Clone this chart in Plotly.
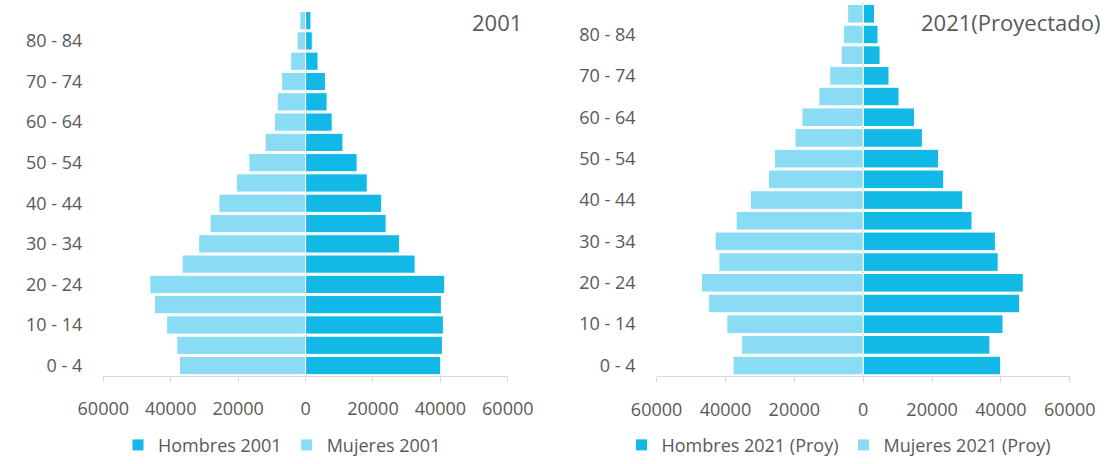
import plotly.graph_objects as go

age_groups = ["0 - 4", "5 - 9", "10 - 14", "15 - 19", "20 - 24", "25 - 29", "30 - 34",
              "35 - 39", "40 - 44", "45 - 49", "50 - 54", "55 - 59", "60 - 64",
              "65 - 69", "70 - 74", "75 - 79", "80 - 84", "85 y más"]

hombres_2001 = [40100, 40600, 40900, 40300, 41300, 32500, 27900, 23900, 22600,
                18300, 15300, 11100, 7900, 6400, 5900, 3700, 2000, 1600]
mujeres_2001 = [37400, 38200, 41200, 44800, 46200, 36600, 31700, 28300, 25700,
                20500, 16800, 12000, 9200, 8400, 7100, 4400, 2500, 1700]

hombres_2021 = [39900, 36800, 40600, 45400, 46500, 39200, 38400, 31600, 28900,
                23400, 21900, 17200, 14900, 10400, 7500, 4900, 4300, 3300]
mujeres_2021 = [37800, 35300, 39600, 44900, 47000, 41900, 43000, 36900, 32800,
                27500, 25800, 19800, 17800, 12900, 9700, 6400, 5700, 4500]

x_ticks = [-60000, -40000, -20000, 0, 20000, 40000, 60000]
x_tick_text = ["60000", "40000", "20000", "0", "20000", "40000", "60000"]
y_tick_labels = age_groups[::2][:9]

C_MEN = "#13B9E6"
C_WOMEN = "#89DCF3"
TXT = "#595959"
GRID = "#D9D9D9"
FONT = "Open Sans"

W, H = 1106, 464

fig = go.Figure()

def add_pair(men, women, name_m, name_w, xa, ya, leg):
    fig.add_trace(go.Bar(y=age_groups, x=men, orientation="h", name=name_m,
                         marker=dict(color=C_MEN, line=dict(color="white", width=1)),
                         xaxis=xa, yaxis=ya, legend=leg))
    fig.add_trace(go.Bar(y=age_groups, x=[-v for v in women], orientation="h", name=name_w,
                         marker=dict(color=C_WOMEN, line=dict(color="white", width=1)),
                         xaxis=xa, yaxis=ya, legend=leg))

add_pair(hombres_2001, mujeres_2001, "Hombres 2001", "Mujeres 2001", "x", "y", "legend")
add_pair(hombres_2021, mujeres_2021, "Hombres 2021 (Proy)", "Mujeres 2021 (Proy)", "x2", "y2", "legend2")

def px_x(p):
    return p / W

def px_y(p):
    return 1 - p / H

xaxis_common = dict(range=[-60000, 60000], tickmode="array", tickvals=x_ticks,
                    ticktext=x_tick_text, showgrid=False, zeroline=True,
                    zerolinecolor=GRID, zerolinewidth=2, showline=True,
                    linecolor=GRID, linewidth=1, ticks="outside", ticklen=5,
                    tickcolor=GRID, tickfont=dict(family=FONT, size=18, color=TXT),
                    ticklabelstandoff=12, fixedrange=True, automargin=False)
yaxis_common = dict(type="category", categoryorder="array", categoryarray=age_groups,
                    tickmode="array", tickvals=y_tick_labels, showgrid=False,
                    zeroline=False, showline=False, ticks="",
                    tickfont=dict(family=FONT, size=18, color=TXT),
                    ticklabelstandoff=20, fixedrange=True, automargin=False)

fig.update_layout(
    width=W, height=H, autosize=False,
    margin=dict(l=0, r=0, t=0, b=0),
    paper_bgcolor="white", plot_bgcolor="white",
    barmode="relative", bargap=0.1,
    font=dict(family=FONT, color=TXT),
    xaxis=dict(domain=[px_x(103.3), px_x(507.8)], anchor="y", **xaxis_common),
    yaxis=dict(domain=[px_y(382.3), px_y(10.7)], anchor="x", **yaxis_common),
    xaxis2=dict(domain=[px_x(656.6), px_x(1069.8)], anchor="y2", **xaxis_common),
    yaxis2=dict(domain=[px_y(382.5), px_y(3.5)], anchor="x2", **yaxis_common),
    legend=dict(orientation="h", x=px_x(282), y=px_y(453), xanchor="center", yanchor="middle",
                font=dict(family=FONT, size=18, color=TXT), bgcolor="rgba(0,0,0,0)",
                itemwidth=30),
    legend2=dict(orientation="h", x=px_x(839), y=px_y(453), xanchor="center", yanchor="middle",
                 font=dict(family=FONT, size=18, color=TXT), bgcolor="rgba(0,0,0,0)",
                 itemwidth=30),
    annotations=[
        dict(text="2001", x=px_x(524), y=px_y(22), xref="paper", yref="paper",
             xanchor="right", yanchor="middle", showarrow=False,
             font=dict(family=FONT, size=22, color=TXT)),
        dict(text="2021(Proyectado)", x=px_x(1102), y=px_y(22), xref="paper", yref="paper",
             xanchor="right", yanchor="middle", showarrow=False,
             font=dict(family=FONT, size=22, color=TXT)),
    ],
)

fig.write_html("out.html", config={"responsive": False, "displayModeBar": False},
               post_script="document.body.style.margin='0';")
